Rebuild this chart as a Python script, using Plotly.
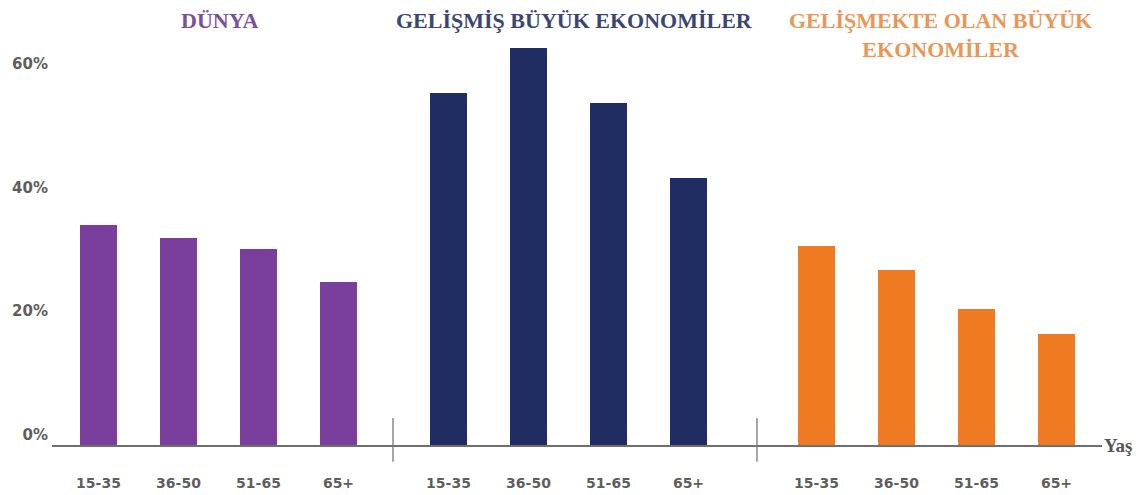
import plotly.graph_objects as go

# Age bands shown under every group
ages = ["15-35", "36-50", "51-65", "65+"]

# Share of each age band (%), per economy group
dunya = [35.7, 33.5, 31.8, 26.4]
gelismis = [57.0, 64.3, 55.4, 43.3]
gelismekte = [32.3, 28.4, 22.0, 18.0]

group_titles = ["DÜNYA", "GELİŞMİŞ BÜYÜK EKONOMİLER", "GELİŞMEKTE OLAN BÜYÜK<br>EKONOMİLER"]
y_ticks = [0, 20, 40, 60]
y_tick_text = ["0%", "20%", "40%", "60%"]
axis_label = "Yaş"

# Layout geometry (x axis expressed in plot-area units)
X_SPAN = 1050
GROUP_START = [46.5, 396.5, 764.5]
SLOT = 80
BAR_W = 37
SEPARATORS = [341, 705]
TITLE_X = [168, 522, 888]

bar_colors = ["#7a3f9d", "#1f2d62", "#f07a22"]
title_colors = ["#7b4f99", "#3b4673", "#ea9657"]
series = [dunya, gelismis, gelismekte]

fig = go.Figure()
tickvals, ticktext = [], []
for g, vals in enumerate(series):
    xs = [GROUP_START[g] + i * SLOT for i in range(len(vals))]
    tickvals += xs
    ticktext += ages
    fig.add_trace(go.Bar(
        x=xs, y=vals, width=BAR_W,
        marker=dict(color=bar_colors[g], line=dict(width=0)),
        showlegend=False, hoverinfo="y",
    ))

for g, title in enumerate(group_titles):
    fig.add_annotation(
        x=TITLE_X[g], xref="x", y=1.0, yref="paper", yanchor="top", yshift=7,
        text=f"<b>{title}</b>", showarrow=False, align="center",
        font=dict(family="Liberation Serif", size=22, color=title_colors[g]),
    )

for sx in SEPARATORS:
    fig.add_shape(type="line", xref="x", yref="paper", x0=sx, x1=sx,
                  y0=0.0625, y1=-0.039, line=dict(color="#777777", width=1.3))

fig.add_annotation(
    x=1.0, xref="paper", y=0, yref="y", xanchor="left", yanchor="middle", xshift=0,
    text=f"<b>{axis_label}</b>", showarrow=False,
    font=dict(family="Liberation Serif", size=19, color="#555555"),
)

fig.update_layout(
    width=1146, height=495,
    margin=dict(l=52, r=44, t=13, b=50),
    plot_bgcolor="white", paper_bgcolor="white",
    bargap=0,
)
fig.update_xaxes(
    range=[0, X_SPAN], tickvals=tickvals, ticktext=ticktext, automargin=False,
    showgrid=False, zeroline=False, showline=True, linecolor="#6f6f6f", linewidth=1.5,
    ticks="outside", ticklen=24, tickcolor="rgba(0,0,0,0)",
    tickfont=dict(family="DejaVu Sans", size=14, color="#5e5e5e", weight="bold"),
    fixedrange=True,
)
fig.update_yaxes(
    range=[0, 70], tickvals=y_ticks, ticktext=y_tick_text, automargin=False,
    showgrid=False, zeroline=False, showline=False,
    ticklabelposition="outside top", ticklabelstandoff=3,
    tickfont=dict(family="DejaVu Sans", size=15, color="#5e5e5e", weight="bold"),
    fixedrange=True,
)

fig.write_html("out.html")
